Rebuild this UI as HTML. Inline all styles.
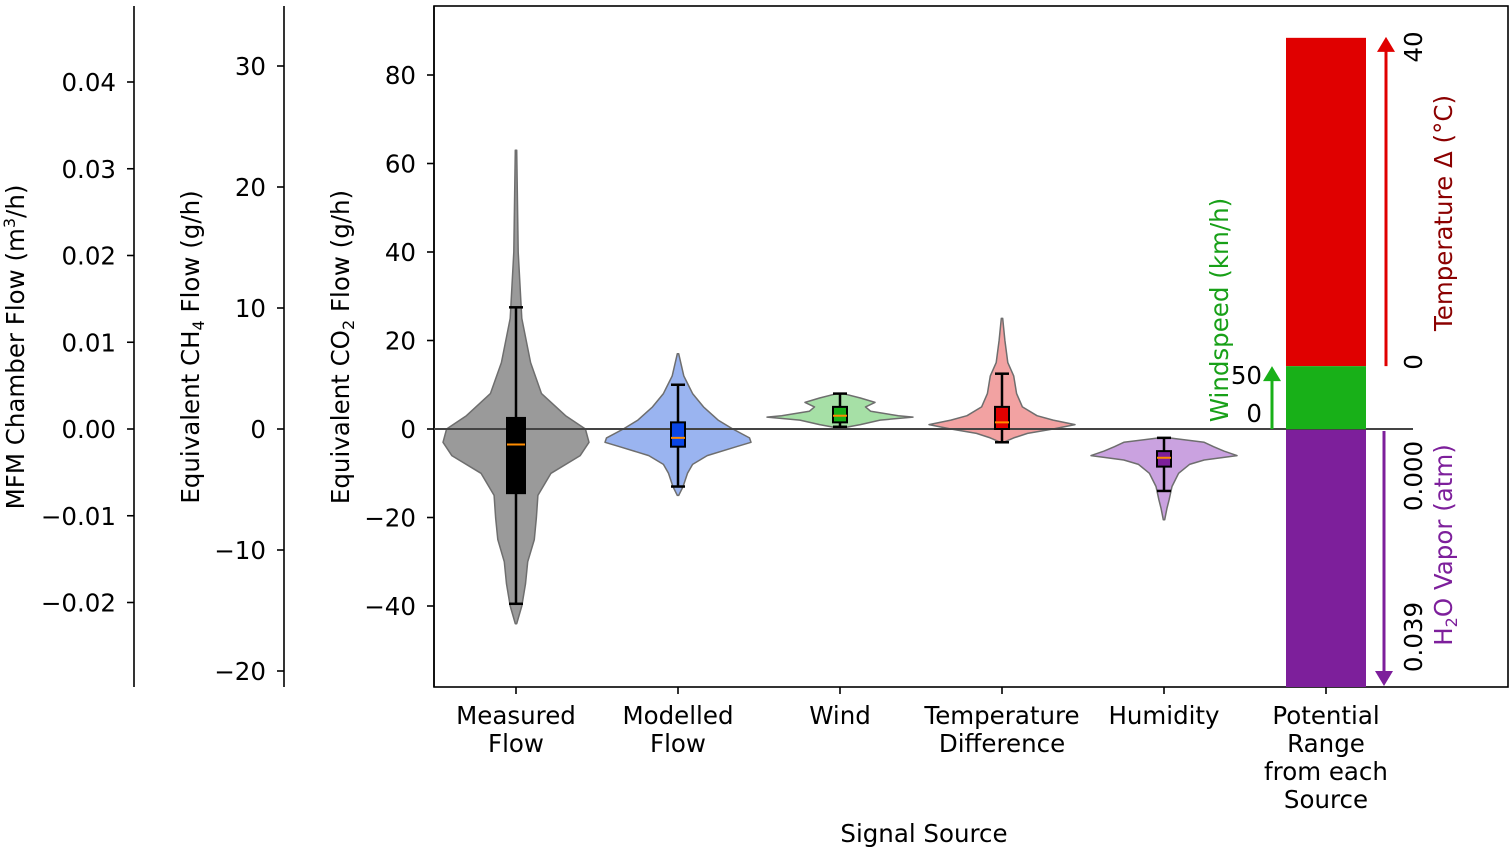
<!DOCTYPE html>
<html><head><meta charset="utf-8"><style>
html,body{margin:0;padding:0;background:#fff;}
svg{display:block;font-family:"DejaVu Sans","Liberation Sans",sans-serif;}
</style></head><body>
<svg id="chart" width="1509" height="849" viewBox="0 0 1509 849" xmlns="http://www.w3.org/2000/svg"></svg>
<script>
const categories = ["Measured|Flow","Modelled|Flow","Wind","Temperature|Difference","Humidity","Potential|Range|from each|Source"];
const co2Ticks = [80,60,40,20,0,-20,-40];
const ch4Ticks = [30,20,10,0,-10,-20];
const mfmTicks = [0.04,0.03,0.02,0.01,0,-0.01,-0.02];
const mfmLabels = ["0.04","0.03","0.02","0.01","0.00","\u22120.01","\u22120.02"];
// violin profiles: [CO2 value, relative half-width 0..1]
const measuredProfile = [[63,0.01],[40,0.03],[25,0.08],[15,0.2],[8,0.35],[3,0.68],[0,0.95],[-3,1],[-6,0.88],[-10,0.48],[-15,0.3],[-20,0.28],[-25,0.25],[-30,0.16],[-35,0.13],[-40,0.08],[-44,0.01]];
const modelledProfile = [[17,0.01],[12,0.08],[8,0.2],[5,0.35],[2,0.55],[0,0.75],[-2,0.98],[-3,1],[-4,0.8],[-6,0.4],[-8,0.2],[-10,0.13],[-13,0.07],[-15,0.01]];
const windProfile = [[8.1,0.02],[7,0.28],[6,0.48],[5,0.35],[4,0.42],[3,0.8],[2.7,1],[2,0.55],[1,0.28],[0.3,0.05]];
const tempProfile = [[25,0.01],[20,0.04],[15,0.08],[12,0.16],[8,0.2],[5,0.28],[3,0.48],[2,0.7],[1,1],[0,0.7],[-1,0.35],[-2,0.16],[-3,0.02]];
const humidProfile = [[-2,0.07],[-3,0.55],[-4,0.68],[-5,0.82],[-6,1],[-7,0.55],[-8,0.35],[-10,0.2],[-13,0.11],[-16,0.07],[-18,0.04],[-20.5,0.01]];
// box stats: [whiskerLow, q1, median, q3, whiskerHigh]
const measuredBox = [-39.5,-14.5,-3.5,2.5,27.5];
const modelledBox = [-13,-4,-2,1.5,10];
const windBox = [0.5,1.5,3,5,8];
const tempBox = [-3,0,1.5,5,12.5];
const humidBox = [-14,-8.5,-6.5,-5,-2];
// potential range segments (CO2 units)
const tempRangeTop = 88.4, windRangeTop = 14.2;

const FS=24.5;
const NS="http://www.w3.org/2000/svg";
const svg=document.getElementById('chart');
const plot={l:434,r:1508,t:6,b:687};
const yCO2=v=>429-v*4.425;
const yCH4=v=>429-v*12.1;
const yMFM=v=>429-v*8675;
const xCat=i=>516+i*162;
const halfMax=73;
function el(tag,attrs,parent){const e=document.createElementNS(NS,tag);for(const k in attrs)e.setAttribute(k,attrs[k]);(parent||svg).appendChild(e);return e;}
function txt(s,attrs,parent){const e=el('text',attrs,parent);e.textContent=s;return e;}

function leftAxis(x,ticks,labels,yf,name){
  const g=el('g',{});
  
  
  el('line',{x1:x,y1:6,x2:x,y2:687,stroke:'#000','stroke-width':1.6},g);
  ticks.forEach((t,i)=>{const y=yf(t);
    el('line',{x1:x-7,y1:y,x2:x,y2:y,stroke:'#000','stroke-width':1.6},g);
    const lb=txt(labels[i],{x:x-18,y:y+9,'text-anchor':'end','font-size':FS,fill:'#000'},g);
    
    
  });
}
leftAxis(134,mfmTicks,mfmLabels,yMFM,'mfm-axis');
leftAxis(284,ch4Ticks,ch4Ticks.map(t=>t<0?'\u2212'+(-t):''+t),yCH4,'ch4-axis');
leftAxis(434,co2Ticks,co2Ticks.map(t=>t<0?'\u2212'+(-t):''+t),yCO2,'co2-axis');

const t1=el('text',{transform:'translate(24,347) rotate(-90)','text-anchor':'middle','font-size':FS});

t1.innerHTML='MFM Chamber Flow (m<tspan dy="-9" font-size="16">3</tspan><tspan dy="9">/h)</tspan>';
const t2=el('text',{transform:'translate(199,347) rotate(-90)','text-anchor':'middle','font-size':FS});

t2.innerHTML='Equivalent CH<tspan dy="5" font-size="16">4</tspan><tspan dy="-5"> Flow (g/h)</tspan>';
const t3=el('text',{transform:'translate(349,347) rotate(-90)','text-anchor':'middle','font-size':FS});

t3.innerHTML='Equivalent CO<tspan dy="5" font-size="16">2</tspan><tspan dy="-5"> Flow (g/h)</tspan>';

const fr=el('rect',{x:plot.l,y:plot.t,width:plot.r-plot.l,height:plot.b-plot.t,fill:'none',stroke:'#000','stroke-width':1.6});


const violins=[[measuredProfile,measuredBox,'#9a9a9a','#000'],[modelledProfile,modelledBox,'#9ab4f0','#0a46e6'],[windProfile,windBox,'#a6e0a6','#18b018'],[tempProfile,tempBox,'#f2a2a2','#e00000'],[humidProfile,humidBox,'#caa2e0','#7d1f9b']];
const vnames=['measured','modelled','wind','temperature','humidity'];
violins.forEach((v,i)=>{
  const [prof,box,fill,bc]=v;const cx=xCat(i);
  const right=prof.map(p=>[cx+p[1]*halfMax,yCO2(p[0])]);
  const left=prof.slice().reverse().map(p=>[cx-p[1]*halfMax,yCO2(p[0])]);
  const pts=right.concat(left).map(p=>p[0].toFixed(1)+','+p[1].toFixed(1)).join(' ');
  const vp=el('polygon',{points:pts,fill:fill,stroke:'#6e6e6e','stroke-width':1.5,'stroke-linejoin':'round'});
  
  
});
const zl=el('line',{x1:plot.l,y1:yCO2(0),x2:1413,y2:yCO2(0),stroke:'#444','stroke-width':2});

violins.forEach((v,i)=>{
  const box=v[1],bc=v[3],cx=xCat(i);
  const g=el('g',{});
  
  
  el('line',{x1:cx,y1:yCO2(box[0]),x2:cx,y2:yCO2(box[4]),stroke:'#000','stroke-width':2.5},g);
  [box[0],box[4]].forEach(w=>el('line',{x1:cx-7,y1:yCO2(w),x2:cx+7,y2:yCO2(w),stroke:'#000','stroke-width':2.5},g));
  const bw=i===0?18:14;
  el('rect',{x:cx-bw/2,y:yCO2(box[3]),width:bw,height:yCO2(box[1])-yCO2(box[3]),fill:bc,stroke:'#000','stroke-width':2},g);
  el('line',{x1:cx-bw/2,y1:yCO2(box[2]),x2:cx+bw/2,y2:yCO2(box[2]),stroke:'#ff8c00','stroke-width':2},g);
});

const cx5=xCat(5);
const rr=el('rect',{x:cx5-40,y:yCO2(tempRangeTop),width:80,height:yCO2(windRangeTop)-yCO2(tempRangeTop),fill:'#e00000'});

const gr=el('rect',{x:cx5-40,y:yCO2(windRangeTop),width:80,height:yCO2(0)-yCO2(windRangeTop),fill:'#18b018'});

const pr=el('rect',{x:cx5-40,y:yCO2(0)+1,width:80,height:plot.b-yCO2(0)-1,fill:'#7d1f9b'});


function arrow(x,y1,y2,color,name){
  const g=el('g',{});
  
  
  const dir=y2<y1?-1:1;
  el('line',{x1:x,y1:y1,x2:x,y2:y2-dir*14,stroke:color,'stroke-width':3},g);
  el('polygon',{points:`${x-9},${y2-dir*15} ${x+9},${y2-dir*15} ${x},${y2}`,fill:color},g);
}
arrow(1386,yCO2(windRangeTop),yCO2(tempRangeTop)-1,'#e00000','temperature-arrow');
arrow(1272,yCO2(0),yCO2(windRangeTop),'#18b018','windspeed-arrow');
arrow(1384,yCO2(0)+2,686,'#7d1f9b','humidity-arrow');

function rot(s,x,y,color,anchor,name,fs){
  const e=txt(s,{transform:`translate(${x},${y}) rotate(-90)`,'text-anchor':anchor,'font-size':fs||FS,fill:color});
  return e;
}
rot('40',1422,47,'#000','middle','temp-max-label');
rot('0',1422,362,'#000','middle','temp-min-label');
rot('Temperature \u0394 (\u00b0C)',1452,213,'#8b0000','middle','temperature-axis-title');
rot('0.000',1422,476,'#000','middle','h2o-min-label');
rot('0.039',1422,637,'#000','middle','h2o-max-label');
const h2o=el('text',{transform:'translate(1452,545) rotate(-90)','text-anchor':'middle','font-size':FS,fill:'#7d1f9b'});

h2o.innerHTML='H<tspan dy="5" font-size="16">2</tspan><tspan dy="-5">O Vapor (atm)</tspan>';
rot('Windspeed (km/h)',1228,310,'#18a018','middle','windspeed-axis-title');
const w50=txt('50',{x:1262,y:384,'text-anchor':'end','font-size':FS});

const w0=txt('0',{x:1262,y:422,'text-anchor':'end','font-size':FS});


categories.forEach((c,i)=>{
  const x=xCat(i);
  const tk=el('line',{x1:x,y1:plot.b,x2:x,y2:plot.b+7,stroke:'#000','stroke-width':1.6});
  
  c.split('|').forEach((ln,j)=>{
    const e=txt(ln,{x:x,y:724+j*28,'text-anchor':'middle','font-size':FS});
    
  });
});
const xt=txt('Signal Source',{x:924,y:842,'text-anchor':'middle','font-size':FS});

</script>
</body></html>
